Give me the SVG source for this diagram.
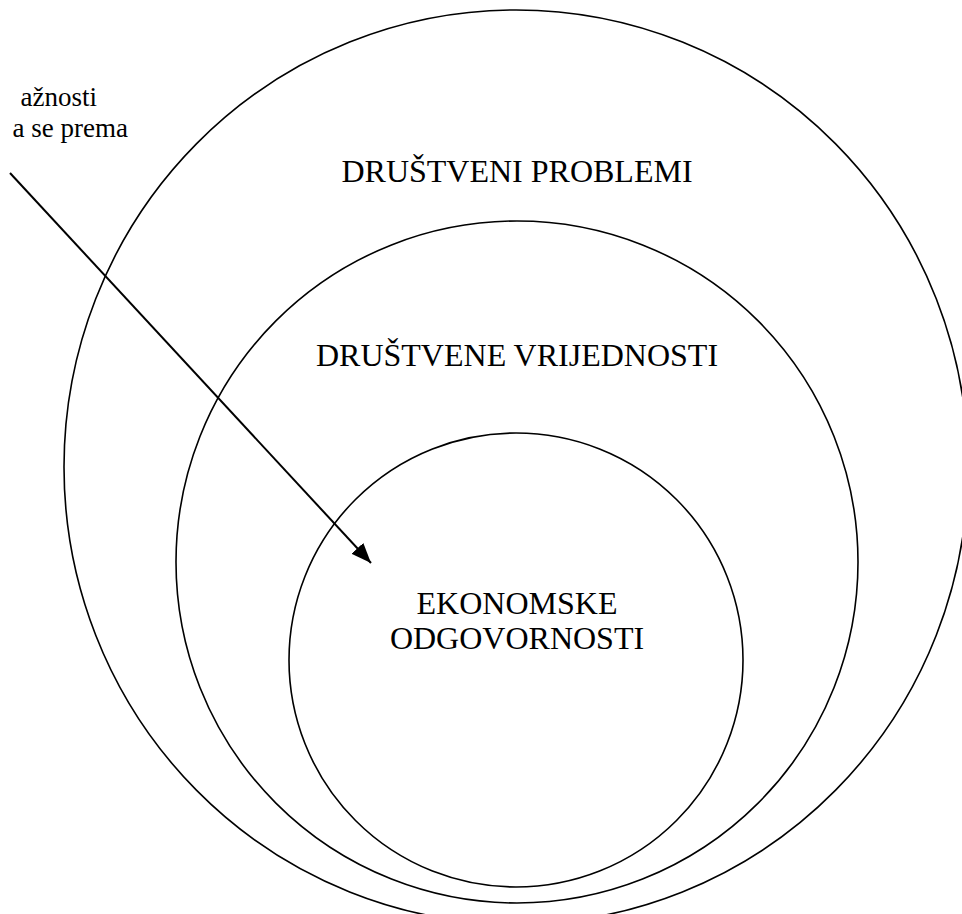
<svg xmlns="http://www.w3.org/2000/svg" width="962" height="914" viewBox="0 0 962 914">
<style>
.ring{fill:none;stroke:#000;stroke-width:1.6}
.lbl{font-family:"Liberation Serif","Times New Roman",serif;font-size:32px;fill:#000}
.note{font-family:"Liberation Serif","Times New Roman",serif;font-size:27px;fill:#000}
.edge{stroke:#000;stroke-width:2;fill:none}
</style>
<defs>
<marker id="arr" markerUnits="userSpaceOnUse" markerWidth="22" markerHeight="16" refX="20" refY="8" orient="auto">
<path d="M0,0 L20,8 L0,16 Z" fill="#000"/>
</marker>
</defs>
<rect width="962" height="914" fill="#fff"/>
<g id="outer">
<ellipse class="ring" cx="516" cy="467" rx="452" ry="457"/>
<text class="lbl" x="517" y="182" text-anchor="middle">DRUŠTVENI PROBLEMI</text>
</g>
<g id="middle">
<ellipse class="ring" cx="517" cy="562" rx="341" ry="341"/>
<text class="lbl" x="517" y="366" text-anchor="middle">DRUŠTVENE VRIJEDNOSTI</text>
</g>
<g id="inner">
<ellipse class="ring" cx="516" cy="660" rx="227" ry="227"/>
<text class="lbl" x="517" y="614" text-anchor="middle">EKONOMSKE</text>
<text class="lbl" x="517" y="649" text-anchor="middle">ODGOVORNOSTI</text>
</g>
<g id="note">
<text class="note" x="97" y="106" text-anchor="end">ažnosti</text>
<text class="note" x="128" y="137" text-anchor="end">a se prema</text>
</g>
<g id="connectors">
<line class="edge" x1="10" y1="173" x2="371" y2="563" marker-end="url(#arr)"/>
</g>
</svg>
